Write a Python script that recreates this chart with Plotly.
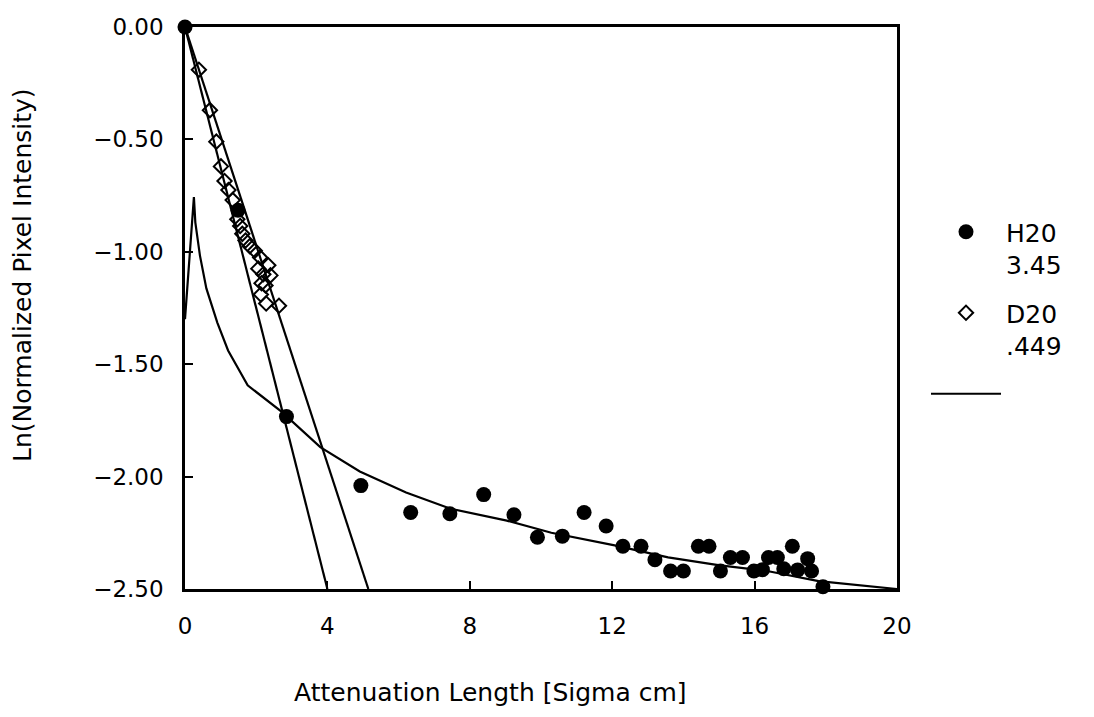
import plotly.graph_objects as go

# H2O measurements (filled circles)
h2o_x = [0.0, 1.49, 2.85, 4.94, 6.34, 7.44, 8.39, 9.24, 9.90, 10.6, 11.21, 11.83,
         12.3, 12.81, 13.2, 13.64, 14.0, 14.42, 14.72, 15.04, 15.32, 15.66, 15.98,
         16.22, 16.39, 16.64, 16.82, 17.06, 17.21, 17.49, 17.6, 17.92]
h2o_y = [0.0, -0.815, -1.733, -2.04, -2.16, -2.165, -2.08, -2.17, -2.27, -2.265, -2.16, -2.22,
         -2.31, -2.31, -2.37, -2.42, -2.42, -2.31, -2.31, -2.42, -2.36, -2.36, -2.42,
         -2.414, -2.36, -2.36, -2.41, -2.31, -2.415, -2.365, -2.42, -2.49]

# D2O measurements (open diamonds)
d2o_x = [0.39, 0.70, 0.88, 1.01, 1.11, 1.22, 1.34, 1.47, 1.55, 1.61, 1.70, 1.82,
         1.96, 2.11, 2.34, 2.06, 2.20, 2.40, 2.15, 2.26, 2.13, 2.28, 2.64]
d2o_y = [-0.19, -0.37, -0.51, -0.62, -0.685, -0.725, -0.77, -0.855, -0.885, -0.92, -0.95, -0.975,
         -0.995, -1.025, -1.06, -1.075, -1.10, -1.105, -1.14, -1.15, -1.19, -1.23, -1.24]

# Model curve (peaked)
curve_x = [0.0, 0.12, 0.25, 0.29, 0.42, 0.60, 0.91, 1.21, 1.76, 2.71, 3.80, 4.91, 6.21, 7.46,
           9.04, 10.29, 12.07, 13.57, 14.98, 16.39, 17.8, 20.0]
curve_y = [-1.30, -1.02, -0.757, -0.869, -1.017, -1.163, -1.316, -1.439, -1.594, -1.711, -1.869,
           -1.977, -2.071, -2.143, -2.196, -2.25, -2.306, -2.359, -2.394, -2.421, -2.465, -2.5]

# Straight-line fits
fit1_x = [0.0, 4.0]
fit1_y = [0.0, -2.5]
fit2_x = [0.0, 5.15]
fit2_y = [0.0, -2.5]

x_ticks = [0, 4, 8, 12, 16, 20]
y_ticks = [0.0, -0.5, -1.0, -1.5, -2.0, -2.5]

FONT = "DejaVu Sans"
L, R, T, B = 177, 205, 19, 136
PW = 1094 - L - R
PH = 717 - T - B

fig = go.Figure()
fig.add_trace(go.Scatter(x=fit1_x, y=fit1_y, mode="lines", line=dict(color="black", width=2.2),
                         showlegend=False, hoverinfo="skip"))
fig.add_trace(go.Scatter(x=fit2_x, y=fit2_y, mode="lines", line=dict(color="black", width=2.2),
                         showlegend=False, hoverinfo="skip"))
fig.add_trace(go.Scatter(x=h2o_x, y=h2o_y, mode="markers", name="H20<br>3.45", legendgroup="a",
                         marker=dict(symbol="circle", size=15, color="black"), cliponaxis=False))
fig.add_trace(go.Scatter(x=d2o_x, y=d2o_y, mode="markers", name="D20<br>.449", legendgroup="b",
                         marker=dict(symbol="diamond-open", size=11, color="black",
                                     line=dict(width=2, color="black")), cliponaxis=False))
fig.add_trace(go.Scatter(x=curve_x, y=curve_y, mode="lines", name=" ", legendgroup="c",
                         line=dict(color="black", width=2.2)))

fig.update_layout(
    width=1094, height=717,
    margin=dict(l=L, r=R, t=T, b=B, autoexpand=False),
    paper_bgcolor="white", plot_bgcolor="white",
    font=dict(family=FONT, size=23, color="black"),
    legend=dict(x=(918 - L) / PW, y=1 - (201 - T) / PH, xanchor="left", yanchor="top",
                itemwidth=70, valign="top", tracegroupgap=13,
                font=dict(size=25, family=FONT), bgcolor="rgba(0,0,0,0)"),
    xaxis=dict(range=[0, 20], tickvals=x_ticks, ticktext=[str(v) for v in x_ticks],
               showgrid=False, zeroline=False, showline=True, linecolor="black", linewidth=2.5,
               mirror=True, ticks="inside", ticklen=8, tickwidth=2, tickcolor="black",
               automargin=False,
               ticklabelstandoff=15, tickfont=dict(size=23, family=FONT)),
    yaxis=dict(range=[-2.5, 0], tickvals=y_ticks, tickformat=".2f",
               showgrid=False, zeroline=False, showline=True, linecolor="black", linewidth=2.5,
               mirror=True, ticks="inside", ticklen=8, tickwidth=2, tickcolor="black",
               automargin=False,
               ticklabelstandoff=14, tickfont=dict(size=23, family=FONT)),
    annotations=[
        dict(text="Attenuation Length [Sigma cm]", xref="paper", yref="paper",
             x=(482 - L) / PW, y=-(684 - (T + PH)) / PH, xanchor="center", yanchor="middle",
             showarrow=False, font=dict(size=25, family=FONT)),
        dict(text="Ln(Normalized Pixel Intensity)", xref="paper", yref="paper",
             x=(14 - L) / PW, y=((T + PH) - 267) / PH, xanchor="center", yanchor="middle",
             textangle=-90, showarrow=False, font=dict(size=25, family=FONT)),
    ],
)

fig.write_html("out.html")
